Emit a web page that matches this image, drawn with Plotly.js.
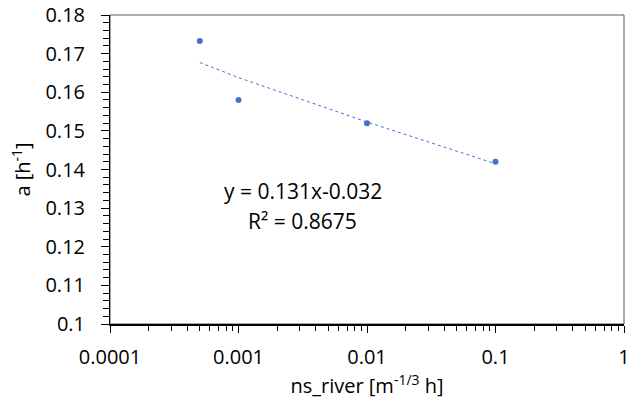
<!DOCTYPE html>
<html>
<head>
<meta charset="utf-8">
<script src="https://cdn.plot.ly/plotly-3.0.1.min.js"></script>
<style>html,body{margin:0;padding:0;background:#fff;}#chart{width:641px;height:405px;}</style>
</head>
<body>
<div id="chart"></div>
<script>
// Data
const nsRiver = [0.0005, 0.001, 0.01, 0.1];
const aValues = [0.1733, 0.158, 0.152, 0.142];
// Trendline (power fit shown in chart) read at the data x positions
const trendX = [0.0005, 0.001, 0.01, 0.1];
const trendY = [0.1677, 0.1638, 0.1523, 0.1415];
const xTickVals = [0.0001, 0.001, 0.01, 0.1, 1];
const xTickText = ['0.0001', '0.001', '0.01', '0.1', '1'];
const eqText = 'y = 0.131x-0.032';
const r2Text = 'R² = 0.8675';

const FONT = 'Open Sans, sans-serif';
const FS = 20;
const BLUE = '#4472C4';

const traces = [
  {x: trendX, y: trendY, type: 'scatter', mode: 'lines',
   line: {color: BLUE, width: 1, dash: 'dot'}, hoverinfo: 'skip', showlegend: false},
  {x: nsRiver, y: aValues, type: 'scatter', mode: 'markers',
   marker: {color: BLUE, size: 6}, showlegend: false}
];

const layout = {
  width: 641, height: 405,
  margin: {l: 109.5, r: 16.5, t: 15, b: 80.5},
  paper_bgcolor: '#fff', plot_bgcolor: '#fff',
  font: {family: FONT, size: FS, color: '#000'},
  showlegend: false,
  xaxis: {
    type: 'log', range: [-4, 0],
    tickmode: 'array', tickvals: xTickVals, ticktext: xTickText,
    ticks: 'outside', ticklen: 7.5, tickwidth: 1, tickcolor: '#000',
    ticklabelstandoff: 7,
    minor: {ticks: 'outside', ticklen: 5.5, tickwidth: 1, tickcolor: '#000', dtick: 'D1', showgrid: false},
    showline: true, linecolor: '#000', linewidth: 1.5,
    showgrid: false, zeroline: false,
    tickfont: {family: FONT, size: FS, color: '#000'},
    title: {text: 'ns_river [m<sup>-1/3</sup> h]', font: {family: FONT, size: FS, color: '#000'}, standoff: 4}
  },
  yaxis: {
    range: [0.1, 0.18], dtick: 0.01, tick0: 0.1,
    ticks: 'outside', ticklen: 7.5, tickwidth: 1, tickcolor: '#000',
    ticklabelstandoff: 12,
    minor: {ticks: 'outside', ticklen: 6, tickwidth: 1, tickcolor: '#000', dtick: 0.002, showgrid: false},
    showline: true, linecolor: '#000', linewidth: 1.5,
    showgrid: false, zeroline: false,
    tickfont: {family: FONT, size: FS, color: '#000'},
    title: {text: 'a [h<sup>-1</sup>]', font: {family: FONT, size: FS, color: '#000'}, standoff: 9}
  },
  shapes: [
    {type: 'rect', xref: 'paper', yref: 'paper', x0: 0, x1: 1, y0: 0, y1: 1,
     line: {color: '#595959', width: 1}, layer: 'below'}
  ],
  annotations: [
    {xref: 'paper', yref: 'paper', x: 0.3754, y: 0.429, text: eqText, showarrow: false,
     font: {family: FONT, size: 21, color: '#000'}, xanchor: 'center', yanchor: 'middle'},
    {xref: 'paper', yref: 'paper', x: 0.3754, y: 0.332, text: r2Text, showarrow: false,
     font: {family: FONT, size: 21, color: '#000'}, xanchor: 'center', yanchor: 'middle'}
  ]
};

Plotly.newPlot('chart', traces, layout, {displayModeBar: false, staticPlot: true});
</script>
</body>
</html>
